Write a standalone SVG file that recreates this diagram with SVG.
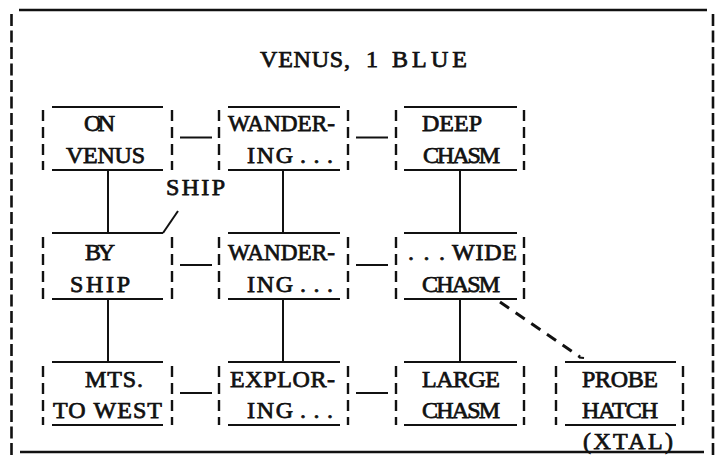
<svg xmlns="http://www.w3.org/2000/svg" width="719" height="457" viewBox="0 0 719 457">
<style>
  .bg { fill: #ffffff; }
  .ln { stroke: #111; stroke-width: 2; fill: none; }
  .side { stroke: #111; stroke-width: 2.4; fill: none; stroke-dasharray: 11 6; }
  .frame { stroke: #111; stroke-width: 2.4; fill: none; }
  .fside { stroke: #111; stroke-width: 2.6; fill: none; stroke-dasharray: 12 4.5; }
  .dash { stroke: #111; stroke-width: 3; fill: none; stroke-dasharray: 11 8; }
  text { font-family: "Liberation Serif", "Times New Roman", serif; font-size: 24px; fill: #111; stroke: #111; stroke-width: 0.75; }
</style>
<rect class="bg" x="0" y="0" width="719" height="457"/>

<g id="frame">
  <line class="frame" x1="19" y1="10" x2="707" y2="10"/>
  <line class="fside" x1="11.5" y1="14" x2="11.5" y2="456"/>
  <line class="fside" x1="713" y1="14" x2="713" y2="456"/>
  <line class="frame" x1="20" y1="452" x2="704" y2="452"/>
  <text y="67"><tspan x="260" textLength="90" lengthAdjust="spacing">VENUS,</tspan><tspan x="366">1</tspan><tspan x="392" textLength="75" lengthAdjust="spacing">BLUE</tspan></text>
</g>

<g id="connectors">
  <line class="ln" x1="180" y1="137.5" x2="212" y2="137.5"/>
  <line class="ln" x1="356" y1="137.5" x2="388" y2="137.5"/>
  <line class="ln" x1="180" y1="265" x2="212" y2="265"/>
  <line class="ln" x1="356" y1="265" x2="388" y2="265"/>
  <line class="ln" x1="180" y1="393" x2="212" y2="393"/>
  <line class="ln" x1="356" y1="393" x2="388" y2="393"/>
  <line class="ln" x1="108" y1="171" x2="108" y2="233"/>
  <line class="ln" x1="283" y1="171" x2="283" y2="233"/>
  <line class="ln" x1="460" y1="171" x2="460" y2="233"/>
  <line class="ln" x1="108" y1="300" x2="108" y2="362"/>
  <line class="ln" x1="283" y1="300" x2="283" y2="362"/>
  <line class="ln" x1="460" y1="300" x2="460" y2="362"/>
  <path class="dash" d="M500,302 L580,357"/>
  <line class="ln" x1="579" y1="357.5" x2="584" y2="358"/>
  <line class="ln" x1="178" y1="211" x2="163" y2="233"/>
  <text x="166" y="195" textLength="59" lengthAdjust="spacing">SHIP</text>
</g>

<g id="on-venus">
  <line class="ln" x1="52" y1="107" x2="163" y2="107"/>
  <line class="ln" x1="52" y1="170" x2="163" y2="170"/>
  <line class="side" x1="43" y1="110" x2="43" y2="170"/>
  <line class="side" x1="172" y1="110" x2="172" y2="170"/>
  <text x="84" y="131" textLength="31" lengthAdjust="spacing">ON</text>
  <text x="66" y="163" textLength="79" lengthAdjust="spacing">VENUS</text>
</g>

<g id="wandering-1">
  <line class="ln" x1="228" y1="107" x2="340" y2="107"/>
  <line class="ln" x1="228" y1="170" x2="340" y2="170"/>
  <line class="side" x1="219" y1="110" x2="219" y2="170"/>
  <line class="side" x1="348" y1="110" x2="348" y2="170"/>
  <text x="228" y="131" textLength="107" lengthAdjust="spacingAndGlyphs">WANDER-</text>
  <text y="163"><tspan x="247" textLength="46" lengthAdjust="spacing">ING</tspan><tspan x="300" textLength="33" lengthAdjust="spacing">...</tspan></text>
</g>

<g id="deep-chasm">
  <line class="ln" x1="404" y1="107" x2="517" y2="107"/>
  <line class="ln" x1="404" y1="170" x2="517" y2="170"/>
  <line class="side" x1="396" y1="110" x2="396" y2="170"/>
  <line class="side" x1="524" y1="110" x2="524" y2="170"/>
  <text x="422" y="131" textLength="60" lengthAdjust="spacing">DEEP</text>
  <text x="423" y="163" textLength="77" lengthAdjust="spacing">CHASM</text>
</g>

<g id="by-ship">
  <line class="ln" x1="52" y1="233" x2="163" y2="233"/>
  <line class="ln" x1="52" y1="299" x2="163" y2="299"/>
  <line class="side" x1="43" y1="237" x2="43" y2="299"/>
  <line class="side" x1="172" y1="237" x2="172" y2="299"/>
  <text x="85" y="260" textLength="30" lengthAdjust="spacing">BY</text>
  <text x="70" y="292" textLength="60" lengthAdjust="spacing">SHIP</text>
</g>

<g id="wandering-2">
  <line class="ln" x1="228" y1="233" x2="340" y2="233"/>
  <line class="ln" x1="228" y1="299" x2="340" y2="299"/>
  <line class="side" x1="219" y1="237" x2="219" y2="299"/>
  <line class="side" x1="348" y1="237" x2="348" y2="299"/>
  <text x="228" y="260" textLength="107" lengthAdjust="spacingAndGlyphs">WANDER-</text>
  <text y="292"><tspan x="247" textLength="46" lengthAdjust="spacing">ING</tspan><tspan x="300" textLength="33" lengthAdjust="spacing">...</tspan></text>
</g>

<g id="wide-chasm">
  <line class="ln" x1="404" y1="233" x2="517" y2="233"/>
  <line class="ln" x1="404" y1="299" x2="517" y2="299"/>
  <line class="side" x1="396" y1="237" x2="396" y2="299"/>
  <line class="side" x1="524" y1="237" x2="524" y2="299"/>
  <text y="260"><tspan x="408" textLength="37" lengthAdjust="spacing">...</tspan><tspan x="452" textLength="65" lengthAdjust="spacing">WIDE</tspan></text>
  <text x="422" y="292" textLength="78" lengthAdjust="spacing">CHASM</text>
</g>

<g id="mts-to-west">
  <line class="ln" x1="52" y1="362" x2="163" y2="362"/>
  <line class="ln" x1="52" y1="425" x2="163" y2="425"/>
  <line class="side" x1="43" y1="366" x2="43" y2="425"/>
  <line class="side" x1="172" y1="366" x2="172" y2="425"/>
  <text x="85" y="387" textLength="58" lengthAdjust="spacing">MTS.</text>
  <text x="53" y="418" textLength="109" lengthAdjust="spacing">TO WEST</text>
</g>

<g id="exploring">
  <line class="ln" x1="228" y1="362" x2="340" y2="362"/>
  <line class="ln" x1="228" y1="425" x2="340" y2="425"/>
  <line class="side" x1="219" y1="366" x2="219" y2="425"/>
  <line class="side" x1="348" y1="366" x2="348" y2="425"/>
  <text x="230" y="387" textLength="105" lengthAdjust="spacing">EXPLOR-</text>
  <text y="418"><tspan x="247" textLength="46" lengthAdjust="spacing">ING</tspan><tspan x="300" textLength="33" lengthAdjust="spacing">...</tspan></text>
</g>

<g id="large-chasm">
  <line class="ln" x1="404" y1="362" x2="517" y2="362"/>
  <line class="ln" x1="404" y1="425" x2="517" y2="425"/>
  <line class="side" x1="396" y1="366" x2="396" y2="425"/>
  <line class="side" x1="524" y1="366" x2="524" y2="425"/>
  <text x="422" y="387" textLength="78" lengthAdjust="spacing">LARGE</text>
  <text x="422" y="418" textLength="78" lengthAdjust="spacing">CHASM</text>
</g>

<g id="probe-hatch">
  <line class="ln" x1="565" y1="362" x2="676" y2="362"/>
  <line class="ln" x1="565" y1="425" x2="676" y2="425"/>
  <line class="side" x1="556" y1="366" x2="556" y2="425"/>
  <line class="side" x1="683" y1="366" x2="683" y2="425"/>
  <text x="582" y="387" textLength="76" lengthAdjust="spacing">PROBE</text>
  <text x="582" y="418" textLength="76" lengthAdjust="spacing">HATCH</text>
  <text x="583" y="449" textLength="90" lengthAdjust="spacing">(XTAL)</text>
</g>
</svg>
